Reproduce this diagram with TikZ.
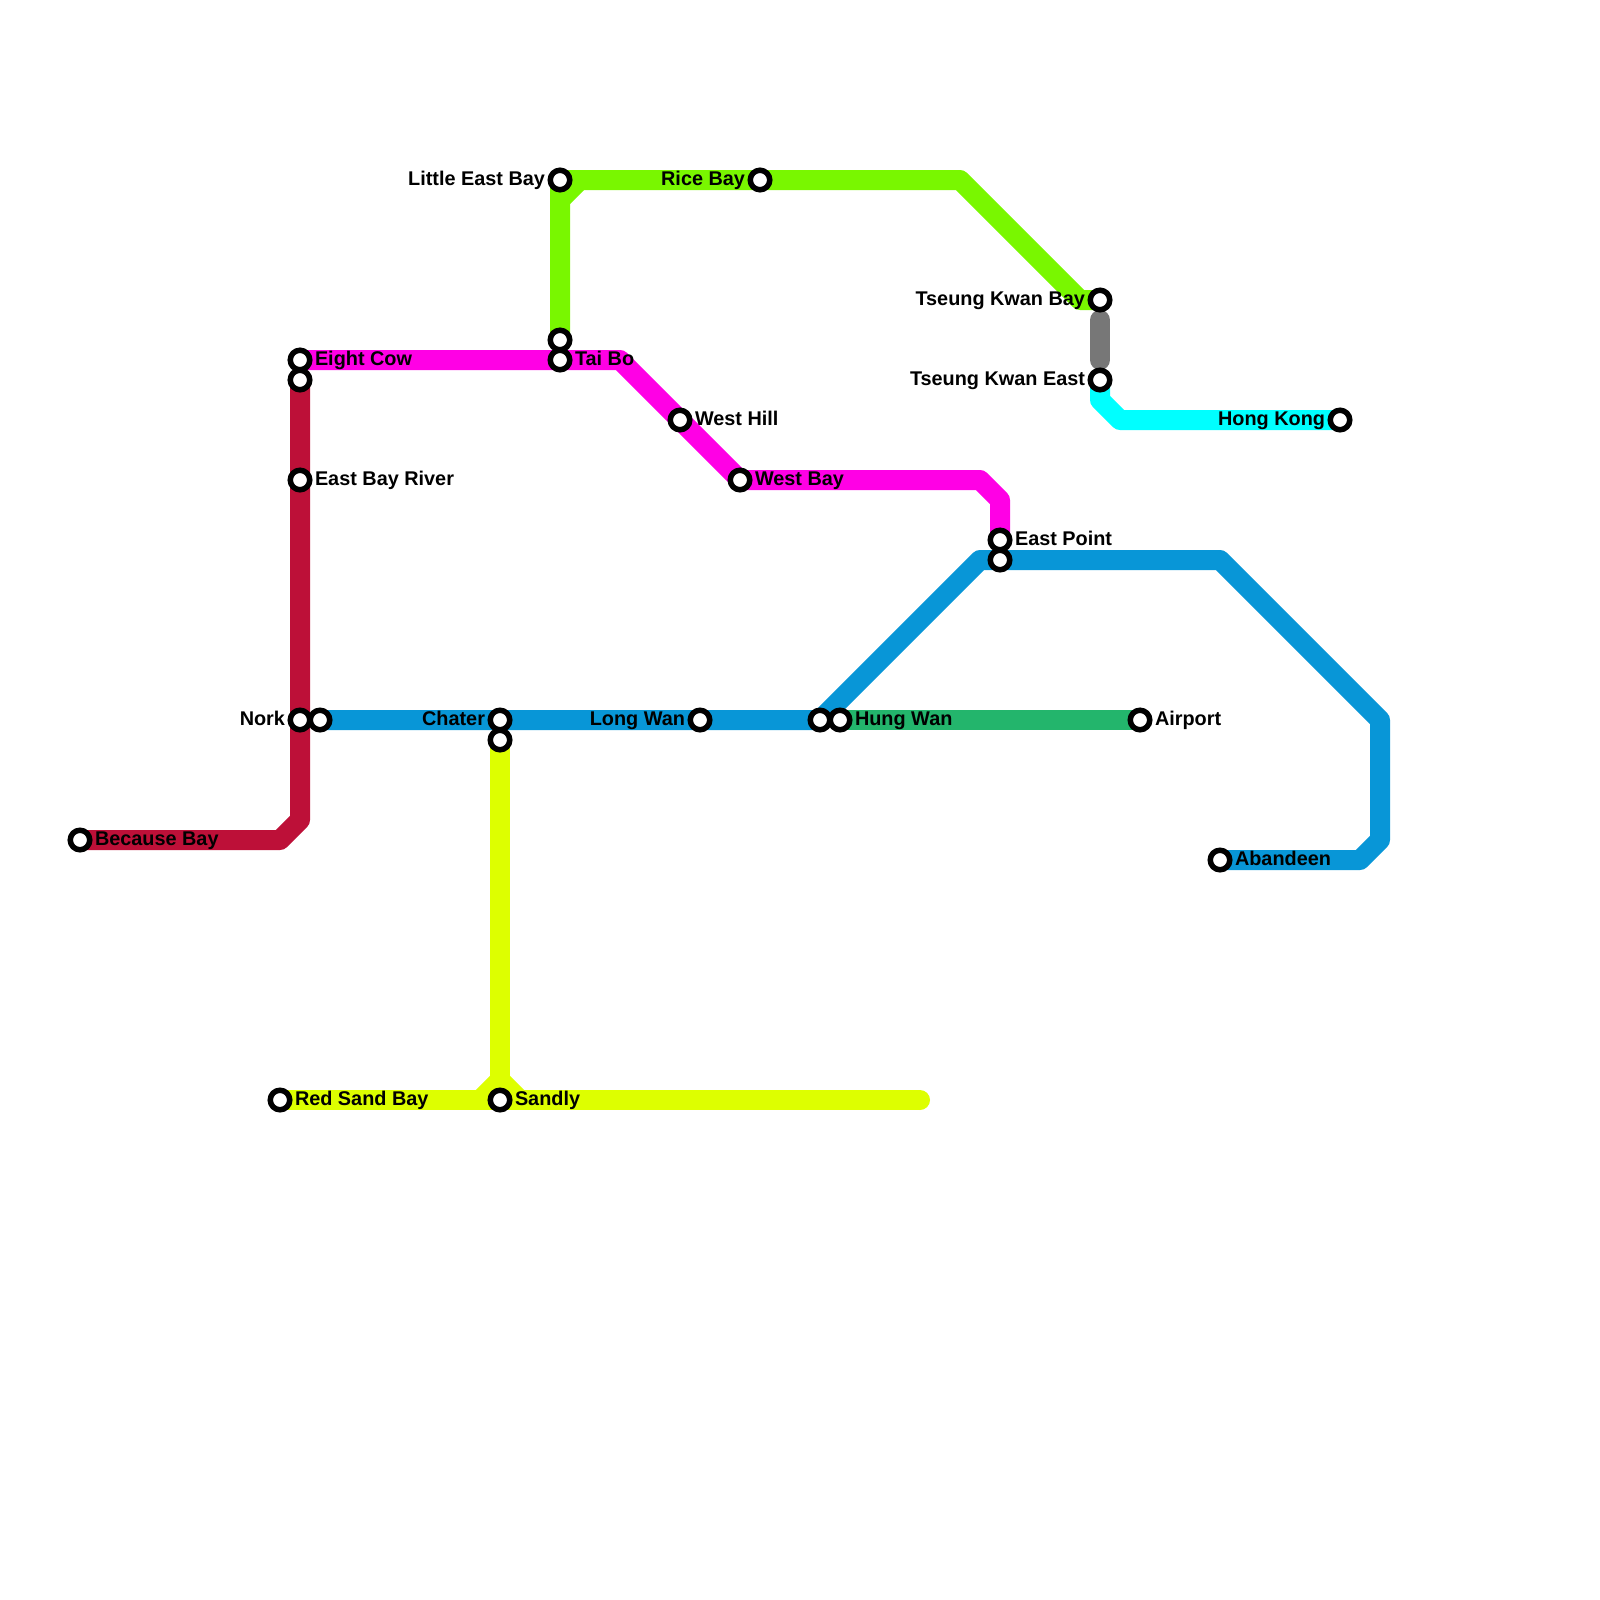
\documentclass[tikz,border=0pt]{standalone}
\usepackage{fontspec}
\setmainfont{Liberation Sans}
\usetikzlibrary{backgrounds}
\definecolor{crimsonline}{HTML}{BD1038}
\definecolor{magentaline}{HTML}{FF00E5}
\definecolor{limeline}{HTML}{79F700}
\definecolor{blueline}{HTML}{0896D7}
\definecolor{yellowline}{HTML}{DDFF00}
\definecolor{cyanline}{HTML}{00FFFF}
\definecolor{greenline}{HTML}{23B56C}
\definecolor{greyline}{HTML}{777777}
\tikzset{
  metro/.style={line width=20pt,line join=round,line cap=butt},
  stationmark/.style={circle,draw=black,fill=white,line width=5.5pt,minimum size=19.5pt,inner sep=0pt,outer sep=0pt},
  lbl/.style={inner sep=0pt,outer sep=0pt,font=\fontsize{19.85}{24}\selectfont\bfseries,text=black},
  lblr/.style={lbl,anchor=base west},
  lbll/.style={lbl,anchor=base east},
}
\begin{document}
\begin{tikzpicture}[x=1pt,y=-1pt]
\useasboundingbox (0,0) rectangle (1600,1600);
% stations
\node[stationmark] (because) at (80,840) {};
\node[stationmark] (eightcow) at (300,360) {};
\node[stationmark] (crimsontop) at (300,380) {};
\node[stationmark] (eastbayriver) at (300,480) {};
\node[stationmark] (nork) at (300,720) {};
\node[stationmark] (bluestart) at (320,720) {};
\node[stationmark] (chater) at (500,720) {};
\node[stationmark] (yellowtop) at (500,740) {};
\node[stationmark] (longwan) at (700,720) {};
\node[stationmark] (blueend) at (820,720) {};
\node[stationmark] (hungwan) at (840,720) {};
\node[stationmark] (airport) at (1140,720) {};
\node[stationmark] (littleeast) at (560,180) {};
\node[stationmark] (limeend) at (560,340) {};
\node[stationmark] (taibo) at (560,360) {};
\node[stationmark] (ricebay) at (760,180) {};
\node[stationmark] (westhill) at (680,420) {};
\node[stationmark] (westbay) at (740,480) {};
\node[stationmark] (eastpoint) at (1000,540) {};
\node[stationmark] (bluemid) at (1000,560) {};
\node[stationmark] (abandeen) at (1220,860) {};
\node[stationmark] (tkbay) at (1100,300) {};
\node[stationmark] (tkeast) at (1100,380) {};
\node[stationmark] (hongkong) at (1340,420) {};
\node[stationmark] (redsand) at (280,1100) {};
\node[stationmark] (sandly) at (500,1100) {};
% bends
\coordinate (c1) at (280,840);
\coordinate (c2) at (300,820);
\coordinate (m1) at (620,360);
\coordinate (m2) at (980,480);
\coordinate (m3) at (1000,500);
\coordinate (l1) at (560,200);
\coordinate (l2) at (580,180);
\coordinate (l3) at (960,180);
\coordinate (l4) at (1080,300);
\coordinate (b1) at (980,560);
\coordinate (b2) at (1220,560);
\coordinate (b3) at (1380,720);
\coordinate (b4) at (1380,840);
\coordinate (b5) at (1360,860);
\coordinate (cy1) at (1100,400);
\coordinate (cy2) at (1120,420);
\coordinate (g1) at (1100,320);
\coordinate (g2) at (1100,360);
\coordinate (y1) at (500,1080);
\coordinate (y2) at (480,1100);
\coordinate (y3) at (520,1100);
\coordinate (y4) at (920,1100);
\begin{scope}[on background layer]
\draw[metro,crimsonline] (because.center) -- (c1) -- (c2) -- (crimsontop.center);
\draw[metro,greenline] (hungwan.center) -- (airport.center);
\draw[metro,blueline] (bluestart.center) -- (blueend.center) -- (b1) -- (b2) -- (b3) -- (b4) -- (b5) -- (abandeen.center);
\draw[metro,magentaline] (eightcow.center) -- (m1) -- (westbay.center) -- (m2) -- (m3) -- (eastpoint.center);
\draw[metro,limeline] (limeend.center) -- (littleeast.center) -- (l3) -- (l4) -- (tkbay.center);
\draw[metro,limeline] (l1) -- (l2);
\draw[metro,cyanline] (tkeast.center) -- (cy1) -- (cy2) -- (hongkong.center);
\draw[metro,greyline,line cap=round] (g1) -- (g2);
\draw[metro,yellowline] (yellowtop.center) -- (sandly.center);
\draw[metro,yellowline] (y2) -- (y1) -- (y3);
\draw[metro,yellowline] (redsand.center) -- (y4);
\fill[yellowline] (y4) circle (10pt);
\end{scope}
% labels
\node[lblr] (tbecause) at (95,845) {Because Bay};
\node[lblr] (teight) at (315,365) {Eight Cow};
\node[lblr] (teastbay) at (315,485) {East Bay River};
\node[lbll] (tnork) at (285,725) {Nork};
\node[lbll] (tchater) at (485,725) {Chater};
\node[lbll] (tlongwan) at (685,725) {Long Wan};
\node[lblr] (thungwan) at (855,725) {Hung Wan};
\node[lblr] (tairport) at (1155,725) {Airport};
\node[lbll] (tlittle) at (545,185) {Little East Bay};
\node[lblr] (ttaibo) at (575,365) {Tai Bo};
\node[lbll] (trice) at (745,185) {Rice Bay};
\node[lblr] (twesthill) at (695,425) {West Hill};
\node[lblr] (twestbay) at (755,485) {West Bay};
\node[lblr] (teastpoint) at (1015,545) {East Point};
\node[lblr] (tabandeen) at (1235,865) {Abandeen};
\node[lbll] (ttkbay) at (1085,305) {Tseung Kwan Bay};
\node[lbll] (ttkeast) at (1085,385) {Tseung Kwan East};
\node[lbll] (thk) at (1325,425) {Hong Kong};
\node[lblr] (tredsand) at (295,1105) {Red Sand Bay};
\node[lblr] (tsandly) at (515,1105) {Sandly};
\end{tikzpicture}
\end{document}
